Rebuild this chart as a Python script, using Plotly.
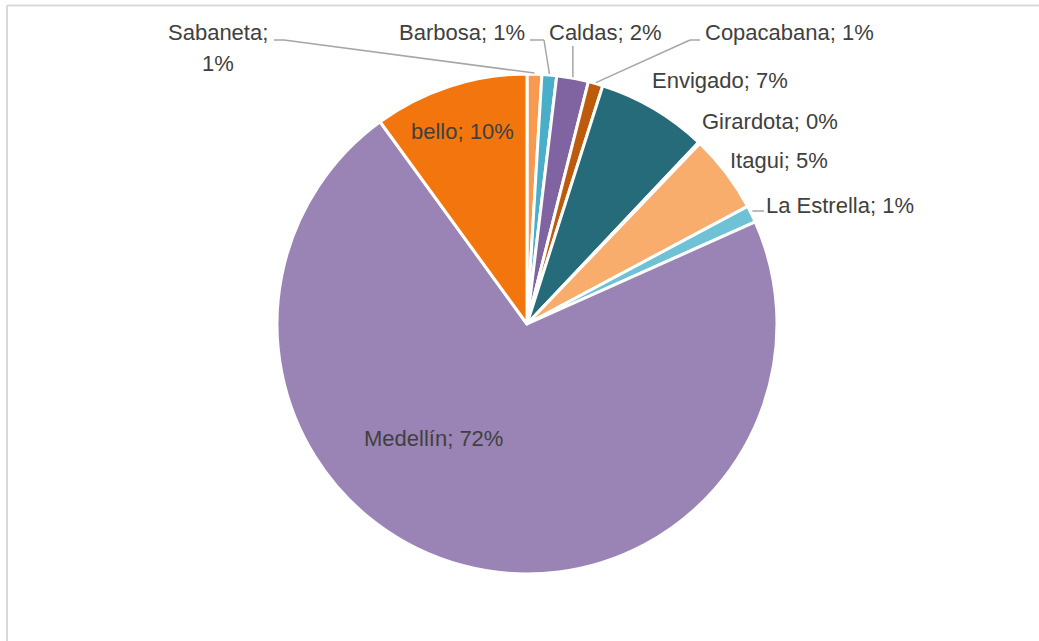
import math
import plotly.graph_objects as go

# Share of records per municipality (percent), clockwise from 12 o'clock
municipios = ["Sabaneta", "Barbosa", "Caldas", "Copacabana", "Envigado",
              "Girardota", "Itagui", "La Estrella", "Medellín", "bello"]
valores = [0.95, 0.95, 2.05, 0.95, 7.15, 0.1, 5.05, 1.1, 71.7, 10.0]
colores = ["#F79A4F", "#4BAEC8", "#8064A2", "#BE5A0C", "#256B7A",
           "#2E8B9C", "#F9AD6D", "#6FC2D6", "#9A84B5", "#F2750E"]

W, H = 1039, 641
CX, CY, R = 527, 324, 250          # pie centre and radius, pixels
FONT = "Liberation Sans, Arial, sans-serif"
FSIZE = 22
TXT = "#404040"
LEAD = "#A6A6A6"


def px(x, y):
    """pixel position -> paper coordinates"""
    return x / W, 1 - y / H


total = sum(valores)
pct = [round(v / total * 100) for v in valores]
mid_ang = []
acc = 0.0
for v in valores:
    mid_ang.append((acc + v / 2) / total * 2 * math.pi)
    acc += v


def edge(i, r=R):
    a = mid_ang[i]
    return CX + r * math.sin(a), CY - r * math.cos(a)


fig = go.Figure(go.Pie(
    labels=municipios,
    values=valores,
    sort=False,
    direction="clockwise",
    rotation=0,
    marker=dict(colors=colores, line=dict(color="white", width=3)),
    textinfo="none",
    hoverinfo="label+percent",
    domain=dict(x=[(CX - R) / W, (CX + R) / W],
                y=[1 - (CY + R) / H, 1 - (CY - R) / H]),
    showlegend=False,
))

# label centres (pixels); Sabaneta wraps onto two lines
label_pos = {
    "Sabaneta": [(218, 32), (218, 63)],
    "Barbosa": [(462, 32)],
    "Caldas": [(605, 32)],
    "Copacabana": [(789, 32)],
    "Envigado": [(720, 81)],
    "Girardota": [(770, 121)],
    "Itagui": [(779, 161)],
    "La Estrella": [(840, 205)],
    "Medellín": [(433, 438)],
    "bello": [(462, 131)],
}

annotations = []
for i, name in enumerate(municipios):
    full = f"{name}; {pct[i]}%"
    pos = label_pos[name]
    parts = [full] if len(pos) == 1 else [f"{name};", f"{pct[i]}%"]
    for text, p in zip(parts, pos):
        x, y = px(*p)
        annotations.append(dict(x=x, y=y, xref="paper", yref="paper", text=text,
                                showarrow=False, xanchor="center", yanchor="middle",
                                font=dict(family=FONT, size=FSIZE, color=TXT)))

shapes = []


def seg(p0, p1, color=LEAD, width=1.5):
    x0, y0 = px(*p0)
    x1, y1 = px(*p1)
    shapes.append(dict(type="line", xref="paper", yref="paper",
                       x0=x0, y0=y0, x1=x1, y1=y1,
                       line=dict(color=color, width=width)))


idx = {n: i for i, n in enumerate(municipios)}
# leader lines from labels to their slices
e = edge(idx["Sabaneta"], R + 1)
seg((274, 40), (284, 40)); seg((284, 40), e)
e = edge(idx["Barbosa"], R + 1)
seg((530, 40), (544, 40)); seg((544, 40), e)
e = edge(idx["Caldas"], R + 1)
seg((e[0], 46), e)
e = edge(idx["Copacabana"], R + 1)
seg((700, 40), (690, 40)); seg((690, 40), e)
e = edge(idx["La Estrella"], R + 1)
seg((e[0], 211), (764, 211))

# chart area border
seg((7, 5.5), (W + 5, 5.5), color="#D9D9D9", width=2)
seg((7, 5.5), (7, H + 5), color="#D9D9D9", width=2)

fig.update_layout(
    width=W, height=H,
    margin=dict(l=0, r=0, t=0, b=0),
    paper_bgcolor="white",
    plot_bgcolor="white",
    annotations=annotations,
    shapes=shapes,
)

fig.write_html("out.html")
